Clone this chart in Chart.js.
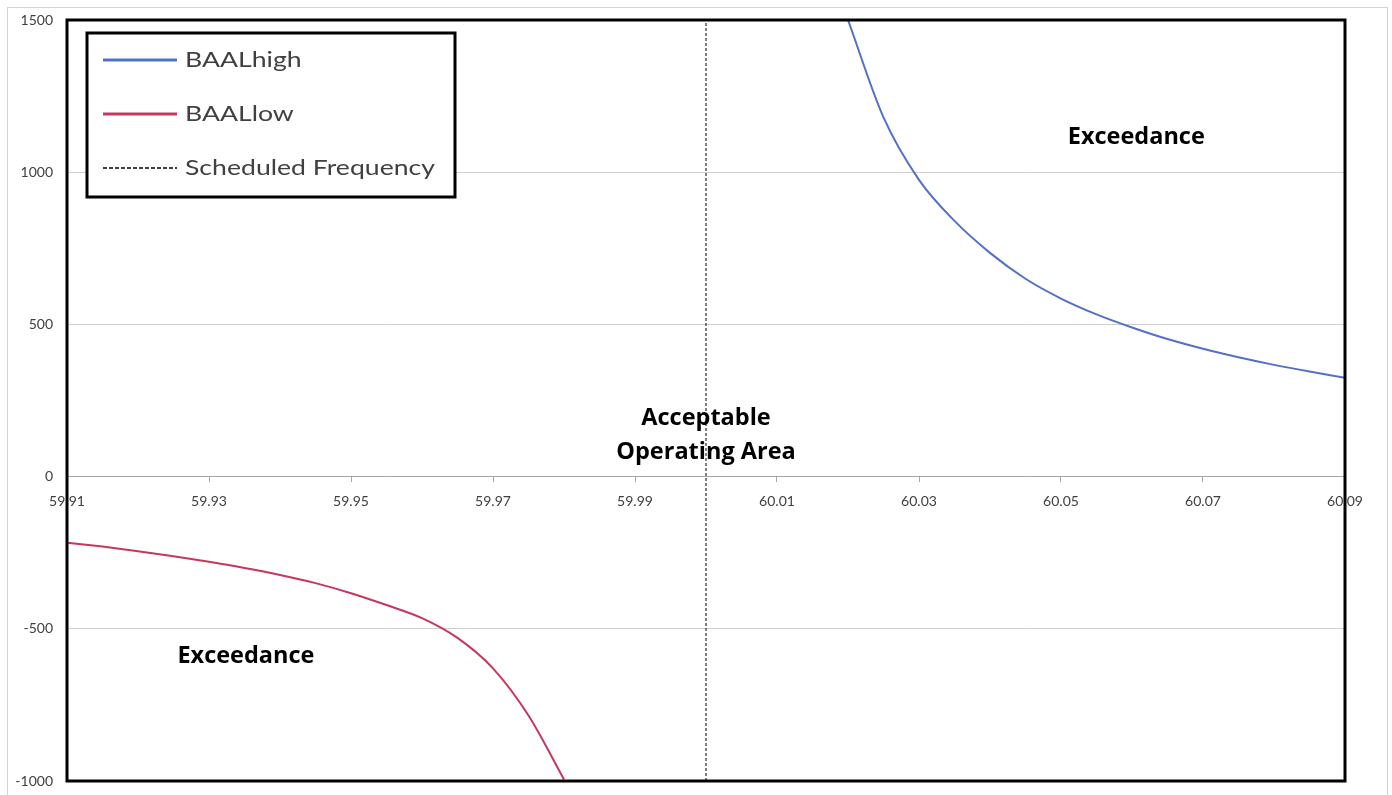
<!DOCTYPE html>
<html>
<head>
<meta charset="utf-8">
<script src="https://cdn.jsdelivr.net/npm/chart.js@4.4.1/dist/chart.umd.min.js"></script>
<style>
  html, body { margin: 0; padding: 0; background: #ffffff; }
  #wrap { width: 1392px; height: 795px; position: relative; }
</style>
</head>
<body>
<div id="wrap"><canvas id="c" width="1392" height="795"></canvas></div>
<script>
// ---- data ----
const freqHigh = [60.02, 60.025, 60.03, 60.035, 60.04, 60.045, 60.05, 60.055, 60.06, 60.065, 60.07, 60.075, 60.08, 60.085, 60.09];
const baalHigh = [1500, 1180, 975, 840, 735, 650, 585, 533, 490, 452, 420, 392, 367, 345, 325];

const freqLow = [59.91, 59.915, 59.92, 59.925, 59.93, 59.935, 59.94, 59.945, 59.95, 59.955, 59.96, 59.965, 59.97, 59.975, 59.98];
const baalLow = [-217, -230, -245, -262, -280, -300, -323, -350, -383, -422, -465, -530, -630, -785, -995];

const scheduledFreq = 60.00;
const scheduledRange = [-1000, 1500];

const xTickValues = [59.91, 59.93, 59.95, 59.97, 59.99, 60.01, 60.03, 60.05, 60.07, 60.09];
const yTickValues = [-1000, -500, 0, 500, 1000, 1500];

const seriesNames = ['BAALhigh', 'BAALlow', 'Scheduled Frequency'];

// text annotations (data units)
const noteTexts = ['Exceedance', 'Acceptable', 'Operating Area', 'Exceedance'];
const noteX = [60.0606, 60.0, 60.0, 59.9352];
const noteY = [1115, 190, 80, -589];

// ---- build ----
const toPts = (xs, ys) => xs.map((x, i) => ({ x: x, y: ys[i] }));

const frameAndNotes = {
  id: 'frameAndNotes',
  beforeDraw(chart) {
    const ctx = chart.ctx;
    ctx.save();
    ctx.fillStyle = '#ffffff';
    ctx.fillRect(0, 0, chart.width, chart.height);
    ctx.strokeStyle = '#d4d4d4';
    ctx.lineWidth = 1;
    ctx.strokeRect(7.5, 7.5, 1380, 820);
    ctx.restore();
  },
  afterDraw(chart) {
    const ctx = chart.ctx;
    const a = chart.chartArea;
    const xs = chart.scales.x, ys = chart.scales.y;
    ctx.save();
    // plot frame
    ctx.strokeStyle = '#000000';
    ctx.lineWidth = 3;
    ctx.strokeRect(a.left, a.top, a.right - a.left, a.bottom - a.top);

    // annotations
    ctx.fillStyle = '#000000';
    ctx.font = 'bold 23.5px "Open Sans", Lato, sans-serif';
    ctx.textAlign = 'center';
    ctx.textBaseline = 'middle';
    noteTexts.forEach((t, i) => {
      ctx.fillText(t, xs.getPixelForValue(noteX[i]), ys.getPixelForValue(noteY[i]));
    });

    // legend box
    const lx = 87, ly = 33, lw = 368, lh = 164;
    ctx.fillStyle = '#ffffff';
    ctx.fillRect(lx, ly, lw, lh);
    ctx.strokeStyle = '#000000';
    ctx.lineWidth = 3;
    ctx.strokeRect(lx, ly, lw, lh);
    ctx.font = '22px Lato, "Open Sans", sans-serif';
    ctx.textAlign = 'left';
    ctx.textBaseline = 'middle';
    chart.data.datasets.forEach((ds, i) => {
      const yy = ly + 27 + i * 54;
      ctx.save();
      ctx.strokeStyle = ds.borderColor;
      ctx.lineWidth = i < 2 ? 3 : 1.5;
      ctx.setLineDash(ds.borderDash && ds.borderDash.length ? [4, 2] : []);
      ctx.beginPath();
      ctx.moveTo(lx + 16, yy);
      ctx.lineTo(lx + 90, yy);
      ctx.stroke();
      ctx.restore();
      ctx.save();
      ctx.fillStyle = '#404040';
      ctx.translate(lx + 98, yy);
      ctx.scale(1.21, 1);
      ctx.fillText(ds.label, 0, 0);
      ctx.restore();
    });
    ctx.restore();
  }
};

new Chart(document.getElementById('c'), {
  type: 'scatter',
  data: {
    datasets: [
      {
        label: seriesNames[0],
        data: toPts(freqHigh, baalHigh),
        showLine: true,
        borderColor: '#5470c6',
        borderWidth: 2,
        pointRadius: 0,
        cubicInterpolationMode: 'monotone',
        fill: false
      },
      {
        label: seriesNames[1],
        data: toPts(freqLow, baalLow),
        showLine: true,
        borderColor: '#c8365e',
        borderWidth: 2,
        pointRadius: 0,
        cubicInterpolationMode: 'monotone',
        fill: false
      },
      {
        label: seriesNames[2],
        data: scheduledRange.map(v => ({ x: scheduledFreq, y: v })),
        showLine: true,
        borderColor: '#000000',
        borderWidth: 1,
        borderDash: [3, 2],
        pointRadius: 0,
        fill: false
      }
    ]
  },
  options: {
    responsive: false,
    animation: false,
    layout: { padding: { left: 0, top: 20, right: 47, bottom: 14 } },
    plugins: {
      legend: { display: false },
      tooltip: { enabled: false }
    },
    scales: {
      x: {
        type: 'linear',
        position: { y: 0 },
        min: 59.91,
        max: 60.09,
        afterFit(scale) { scale.paddingTop = 0; scale.paddingBottom = 0; scale.paddingLeft = 0; scale.paddingRight = 0; },
        afterBuildTicks(scale) { scale.ticks = xTickValues.map(v => ({ value: v })); },
        ticks: {
          autoSkip: false,
          maxRotation: 0,
          padding: 11,
          color: '#404040',
          font: { family: 'Lato', size: 14 },
          callback: (v) => Number(v).toFixed(2)
        },
        grid: { drawOnChartArea: false, drawTicks: true, tickLength: 5, color: '#a6a6a6' },
        border: { display: true, color: '#a6a6a6', width: 1 }
      },
      y: {
        type: 'linear',
        min: -1000,
        max: 1500,
        afterFit(scale) { scale.width = 67; scale.paddingTop = 0; scale.paddingBottom = 0; scale.paddingLeft = 0; scale.paddingRight = 0; },
        afterBuildTicks(scale) { scale.ticks = yTickValues.map(v => ({ value: v })); },
        ticks: {
          padding: 14,
          color: '#404040',
          font: { family: 'Lato', size: 14 },
          callback: (v) => String(v)
        },
        grid: { color: '#d0d0d0', drawTicks: false, lineWidth: 1 },
        border: { display: false }
      }
    }
  },
  plugins: [frameAndNotes]
});
</script>
</body>
</html>
